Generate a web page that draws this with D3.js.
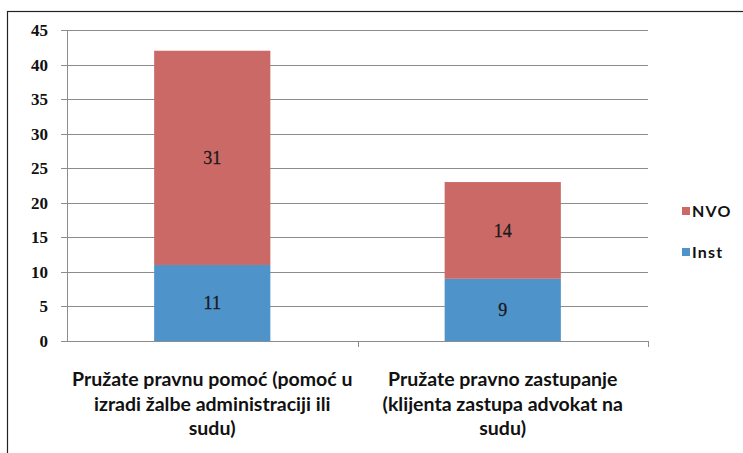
<!DOCTYPE html>
<html><head><meta charset="utf-8">
<script src="https://cdn.jsdelivr.net/npm/d3@7"></script>
<style>body{margin:0;background:#fff}svg{display:block}</style>
</head><body>
<svg id="c" width="743" height="453"></svg>
<script>
const categories = [
  ["Pružate pravnu pomoć (pomoć u", "izradi žalbe administraciji ili", "sudu)"],
  ["Pružate pravno zastupanje", "(klijenta zastupa advokat na", "sudu)"]
];
const catKeys = ["A", "B"];
const instValues = [11, 9];
const nvoValues = [31, 14];
const seriesNames = ["NVO", "Inst"];
const yTicks = [0, 5, 10, 15, 20, 25, 30, 35, 40, 45];

const svg = d3.select("#c");
const colors = {NVO: "#CB6966", Inst: "#4F93CB"};

svg.append("rect").attr("x", 7.5).attr("y", 11.5).attr("width", 800).attr("height", 500)
  .attr("fill", "none").attr("stroke", "#222").attr("stroke-width", 1.2);

const y = d3.scaleLinear().domain([0, 45]).range([341, 30]);
const x = d3.scaleBand().domain(catKeys).range([67, 648]).paddingInner(0.6).paddingOuter(0.3);

svg.append("g").selectAll("line").data(yTicks).join("line")
  .attr("x1", 61).attr("x2", 648)
  .attr("y1", d => Math.round(y(d)) + 0.5).attr("y2", d => Math.round(y(d)) + 0.5)
  .attr("stroke", "#8c8c8c").attr("stroke-width", 1);

svg.append("line").attr("x1", 67.5).attr("x2", 67.5).attr("y1", y(45)).attr("y2", y(0))
  .attr("stroke", "#8c8c8c");

const step = x.step();
const bounds = [67 + step, 648];
svg.append("g").selectAll("line").data(bounds).join("line")
  .attr("x1", d => Math.round(d) + 0.5).attr("x2", d => Math.round(d) + 0.5)
  .attr("y1", y(0)).attr("y2", y(0) + 6)
  .attr("stroke", "#8c8c8c");

svg.append("g").selectAll("text").data(yTicks).join("text")
  .attr("x", 48).attr("y", d => y(d)).attr("dy", "0.35em")
  .attr("text-anchor", "end")
  .attr("font-family", "Liberation Serif, serif").attr("font-size", 17).attr("font-weight", "bold")
  .attr("fill", "#111").text(d => d);

const rows = catKeys.map((k, i) => ({key: k, Inst: instValues[i], NVO: nvoValues[i]}));
const stack = d3.stack().keys(["Inst", "NVO"])(rows);

const g = svg.append("g");
stack.forEach(layer => {
  g.append("g").selectAll("rect").data(layer).join("rect")
    .attr("x", d => x(d.data.key)).attr("width", x.bandwidth())
    .attr("y", d => y(d[1])).attr("height", d => y(d[0]) - y(d[1]))
    .attr("fill", colors[layer.key]);
  g.append("g").selectAll("text").data(layer).join("text")
    .attr("x", d => x(d.data.key) + x.bandwidth() / 2)
    .attr("y", d => y((d[0] + d[1]) / 2)).attr("dy", "0.35em")
    .attr("text-anchor", "middle")
    .attr("font-family", "Liberation Serif, serif").attr("font-size", 18)
    .attr("stroke", "#1a1a1a").attr("stroke-width", 0.3)
    .attr("fill", "#1a1a1a").text(d => d[1] - d[0]);
});

catKeys.forEach((k, i) => {
  const t = svg.append("text").attr("text-anchor", "middle")
    .attr("font-family", "Lato, sans-serif").attr("font-size", 19.5).attr("font-weight", "bold")
    .attr("fill", "#111");
  categories[i].forEach((line, j) => {
    t.append("tspan").attr("x", x(k) + x.bandwidth() / 2).attr("y", 386 + j * 24.5).text(line);
  });
});

const legY = [211, 252];
seriesNames.forEach((s, i) => {
  svg.append("rect").attr("x", 682).attr("y", legY[i] - 4).attr("width", 8).attr("height", 8)
    .attr("fill", colors[s]);
  svg.append("text").attr("x", 692).attr("y", legY[i]).attr("dy", "0.35em")
    .attr("font-family", "Lato, sans-serif").attr("font-size", 16).attr("font-weight", "bold")
    .attr("letter-spacing", 1.2)
    .attr("fill", "#111").text(s);
});
</script>
</body></html>
